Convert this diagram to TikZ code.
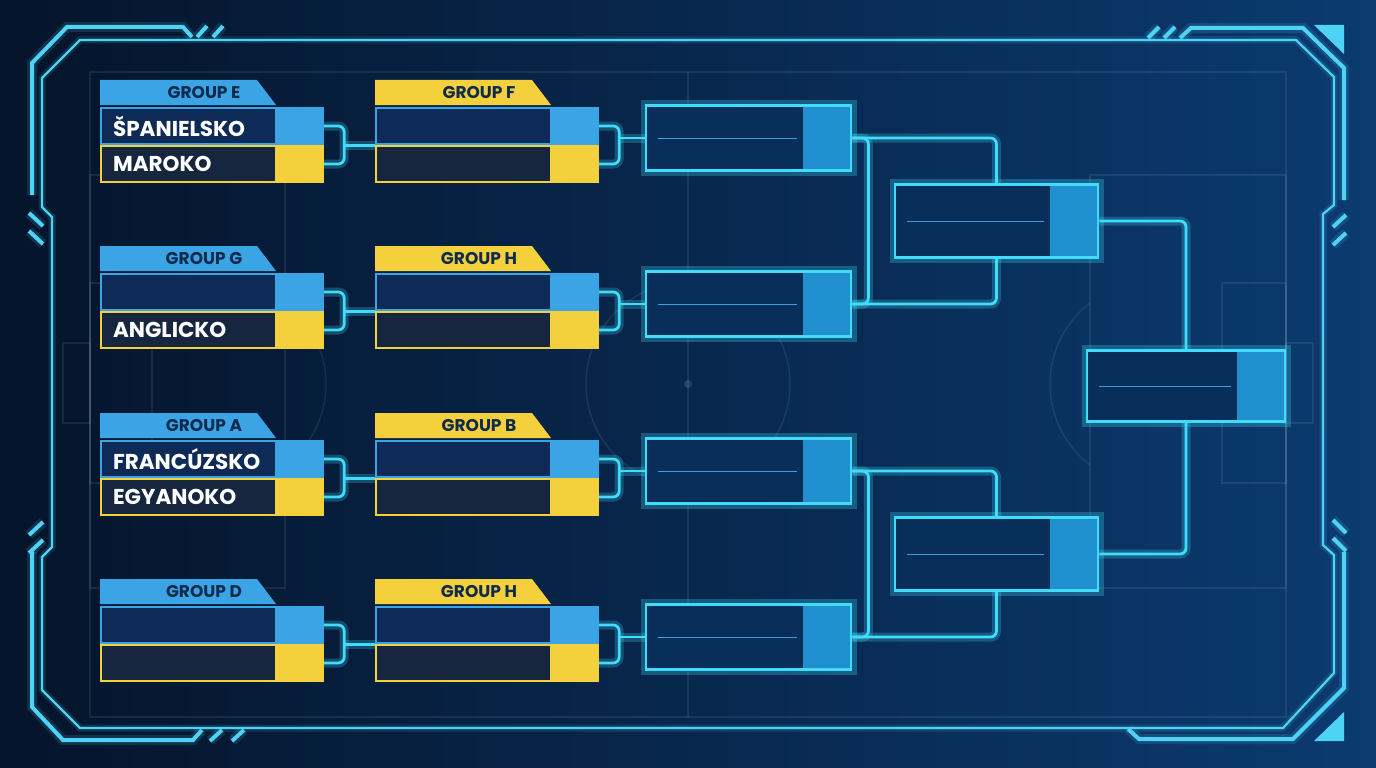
\documentclass[tikz,border=0pt]{standalone}
\usepackage{fontspec}
\setmainfont{Poppins}
\usetikzlibrary{positioning,calc}

\definecolor{bgleft}{HTML}{05142B}
\definecolor{bgmid}{HTML}{0A2A52}
\definecolor{bgright}{HTML}{0B3B70}
\definecolor{neoncyan}{HTML}{40DCFA}
\definecolor{boxfill}{HTML}{0A2E5A}
\definecolor{boxsq}{HTML}{1F8FD0}
\definecolor{innerln}{HTML}{3B9FE0}
\definecolor{rowtop}{HTML}{0E2B57}
\definecolor{rowbot}{HTML}{17263F}
\definecolor{rowblue}{HTML}{3AA4E4}
\definecolor{rowyellow}{HTML}{F3D03C}
\definecolor{grouptext}{HTML}{0E2A4C}
\definecolor{framec}{HTML}{4FD3F5}

\pgfdeclarelayer{bg}
\pgfdeclarelayer{wires}
\pgfsetlayers{bg,wires,main}

\tikzset{
  field/.style={draw=white, opacity=0.08, line width=1.5pt},
  neon/.style={draw=neoncyan, line width=2.8pt, rounded corners=6pt,
    preaction={draw=neoncyan, line width=9pt, opacity=0.25}},
  frameout/.style={draw=framec, line width=4pt, line join=miter,
    preaction={draw=framec, line width=10pt, opacity=0.15}},
  framein/.style={draw=framec, line width=2.2pt,
    preaction={draw=framec, line width=7pt, opacity=0.15}},
  teamrow/.style 2 args={draw=#1, fill=#2, line width=2.2pt, anchor=west,
    minimum width=222pt, minimum height=36pt, inner xsep=12pt, inner ysep=0pt,
    text width=198pt, align=left, text=white,
    font=\fontsize{21.5}{21.5}\selectfont\bfseries,
    path picture={\fill[#1] ([xshift=-48pt]path picture bounding box.north east)
      rectangle (path picture bounding box.south east);}},
  grouplbl/.style={text=grouptext, font=\fontsize{17}{17}\selectfont\bfseries, inner sep=0pt},
  neonbox/.style={draw=neoncyan, fill=boxfill, line width=2.8pt,
    preaction={draw=neoncyan, line width=11pt, opacity=0.28},
    path picture={
      \fill[boxsq] ([xshift=-48pt]path picture bounding box.north east)
        rectangle (path picture bounding box.south east);
      \draw[innerln, line width=1pt] ([xshift=12pt]path picture bounding box.west)
        -- ([xshift=-54pt]path picture bounding box.east);}},
}

\begin{document}
\begin{tikzpicture}[x=1pt,y=-1pt]
\useasboundingbox (0,0) rectangle (1376,768);

% background and pitch
\begin{pgfonlayer}{bg}
  \shade[left color=bgleft, middle color=bgmid, right color=bgright] (0,0) rectangle (1376,768);
  \draw[field] (90,72) rectangle (1286,717);
  \draw[field] (688,72) -- (688,717);
  \draw[field] (688,384) circle (102);
  \fill[white, opacity=0.12] (688,384) circle (4);
  \draw[field] (90,175) rectangle (285,588);
  \draw[field] (90,283) rectangle (152,483);
  \draw[field] (63,343) rectangle (90,423);
  \draw[field] (1090,175) rectangle (1286,588);
  \draw[field] (1222,283) rectangle (1286,483);
  \draw[field] (1286,343) rectangle (1313,423);
  \begin{scope}
    \clip (285,0) rectangle (400,768);
    \draw[field] (224,384) circle (102);
  \end{scope}
  \begin{scope}
    \clip (1000,0) rectangle (1090,768);
    \draw[field] (1152,384) circle (102);
  \end{scope}
\end{pgfonlayer}

% frame
\draw[frameout] (32,195) -- (32,63) -- (67,27) -- (183,27) -- (192,37);
\draw[frameout] (1180,38) -- (1191,28) -- (1303,28) -- (1344,68) -- (1344,200);
\draw[frameout] (1344,552) -- (1344,688) -- (1293,739) -- (1139,739) -- (1128,729);
\draw[frameout] (32,552) -- (32,707) -- (63,740) -- (193,740) -- (202,730);
\draw[framein] (80,40) -- (1296,40) -- (1334,77) -- (1334,205) -- (1323,214)
  -- (1323,545) -- (1334,555) -- (1334,673) -- (1283,728) -- (80,728)
  -- (42,690) -- (42,557) -- (52,547) -- (52,217) -- (42,207) -- (42,78) -- cycle;
\foreach \xa/\ya/\xb/\yb in {197/37/207/26, 213/37/223/26, 1148/38/1159/27, 1164/38/1175/27,
  1333/227/1346/215, 1333/245/1346/233, 1333/520/1346/533, 1333/538/1346/551,
  29/213/43/226, 29/231/43/244, 29/535/43/522, 29/553/43/540,
  210/741/222/730, 232/741/244/730}
  \draw[frameout, line cap=butt] (\xa,\ya) -- (\xb,\yb);
\fill[framec] (1314,25) -- (1344,25) -- (1344,54) -- cycle;
\fill[framec] (1314,741) -- (1344,741) -- (1344,712) -- cycle;

% group stage blocks
\foreach \yc/\k/\ga/\gb/\ta/\tb in {145/1/E/F/ŠPANIELSKO/MAROKO, 311/2/G/H/{}/ANGLICKO,
    478/3/A/B/FRANCÚZSKO/EGYANOKO, 644/4/D/H/{}/{}}{
  \fill[rowblue] (100,\yc-65) -- (257,\yc-65) -- (276,\yc-40) -- (100,\yc-40) -- cycle;
  \node[grouplbl] (ga\k) at (204,\yc-52.5) {GROUP \ga};
  \fill[rowyellow] (375,\yc-65) -- (532,\yc-65) -- (551,\yc-40) -- (375,\yc-40) -- cycle;
  \node[grouplbl] (gb\k) at (479,\yc-52.5) {GROUP \gb};
  \node[teamrow={rowblue}{rowtop}] (a\k) at (100,\yc-19) {\ta};
  \node[teamrow={rowyellow}{rowbot}] (b\k) at (100,\yc+19) {\tb};
  \node[teamrow={rowblue}{rowtop}] (c\k) at (375,\yc-19) {};
  \node[teamrow={rowyellow}{rowbot}] (d\k) at (375,\yc+19) {};
  \node[neonbox, minimum width=205pt, minimum height=65pt] (q\k) at (748.5,\yc-7) {};
  \begin{pgfonlayer}{wires}
    \draw[neon] (a\k.east) -- ++(20,0) coordinate (ma\k) |- (b\k.east);
    \draw[neon] (ma\k |- c\k.south west) -- (c\k.south west);
    \draw[neon] (c\k.east) -- ++(20,0) coordinate (mc\k) |- (d\k.east);
    \draw[neon] (mc\k |- q\k.west) -- (q\k.west);
  \end{pgfonlayer}
}

% later rounds
\node[neonbox, minimum width=203pt, minimum height=73pt] (s1) at (996.5,221) {};
\node[neonbox, minimum width=203pt, minimum height=73pt] (s2) at (996.5,554) {};
\node[neonbox, minimum width=198pt, minimum height=71pt] (fin) at (1186,386) {};

\begin{pgfonlayer}{wires}
  \draw[neon] (q1.east) -| (s1.north);
  \draw[neon] (q2.east) -| (s1.south);
  \draw[neon] (q1.east) -- ++(16,0) |- (q2.east);
  \draw[neon] (q3.east) -| (s2.north);
  \draw[neon] (q4.east) -| (s2.south);
  \draw[neon] (q3.east) -- ++(16,0) |- (q4.east);
  \draw[neon] (s1.east) -| (fin.north);
  \draw[neon] (s2.east) -| (fin.south);
\end{pgfonlayer}
\end{tikzpicture}
\end{document}
